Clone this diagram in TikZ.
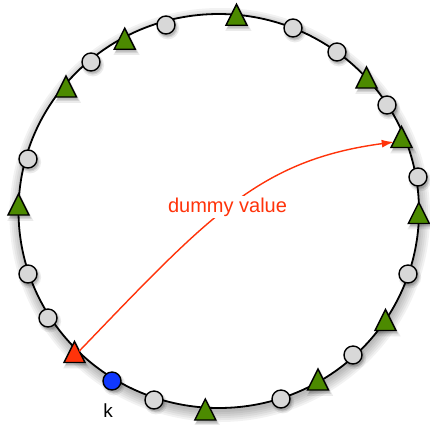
\documentclass[tikz,border=0pt]{standalone}
\usepackage{fontspec}
\setmainfont{Liberation Sans}
\usetikzlibrary{shapes.geometric,arrows.meta,shadows}
\definecolor{ggreen}{RGB}{76,138,0}
\definecolor{grayfill}{RGB}{216,216,216}
\definecolor{rred}{RGB}{255,51,10}
\definecolor{bblue}{RGB}{16,56,255}
\tikzset{
  soft shadow/.style={
    general shadow={fill=black, opacity=0.08, shadow xshift=1.5pt, shadow yshift=-2.5pt, shadow scale=1.25},
    general shadow={fill=black, opacity=0.10, shadow xshift=1.5pt, shadow yshift=-2.5pt, shadow scale=1.1},
    general shadow={fill=black, opacity=0.12, shadow xshift=1.5pt, shadow yshift=-2.5pt}
  },
  dot/.style={circle, draw=black, line width=1.4pt, minimum size=18pt, inner sep=0pt, outer sep=0pt, fill=grayfill, soft shadow},
  tri/.style={isosceles triangle, isosceles triangle stretches, isosceles triangle apex angle=53,
    shape border rotate=90, minimum width=21pt, minimum height=21pt, inner sep=0pt, outer sep=0pt,
    draw=black, line width=1.4pt, fill=ggreen, line join=miter, anchor=lower side, soft shadow},
  ring/.style={draw=black, fill=white, line width=1.8pt},
  ringshadow/.style={fill=black, opacity=0.05},
  conn/.style={draw=rred, line width=1.4pt, -{Latex[length=12pt,width=8pt]}},
  lbl/.style={fill=white, inner sep=1.5pt, text=rred, font=\fontsize{20}{24}\selectfont, anchor=base},
  klbl/.style={inner sep=0pt, text=black, font=\fontsize{19}{23}\selectfont, anchor=base}
}
\begin{document}
\begin{tikzpicture}[x=1pt,y=-1pt]
\useasboundingbox (0,0) rectangle (430,424);
% ring with soft shadow
\foreach \k in {0,2,4,6,8,10} {
  \fill[ringshadow] (219.75,215) ellipse [x radius=200.25+\k, y radius=197+\k];
}
\path[ring] (218.75,211) ellipse [x radius=200.25, y radius=197];
% gray dots
\node[dot] (g1) at (166,25) {};
\node[dot] (g2) at (91,62) {};
\node[dot] (g3) at (28,159) {};
\node[dot] (g4) at (28,274) {};
\node[dot] (g5) at (48,318) {};
\node[dot] (g6) at (154,400) {};
\node[dot] (g7) at (281,399) {};
\node[dot] (g8) at (353,355) {};
\node[dot] (g9) at (408,274) {};
\node[dot] (g10) at (418,177) {};
\node[dot] (g11) at (387,105) {};
\node[dot] (g12) at (337,52) {};
\node[dot] (g13) at (293,28) {};
\node[dot, fill=bblue] (k) at (112,381) {};
% triangles
\node[tri] (t1) at (236.5,25.2) {};
\node[tri] (t2) at (124.7,49.2) {};
\node[tri] (t3) at (66,97) {};
\node[tri] (t4) at (18.5,215) {};
\node[tri] (t5) at (418.8,223.5) {};
\node[tri] (t6) at (401.5,147.5) {};
\node[tri] (t7) at (366.5,88) {};
\node[tri] (t8) at (385.5,330.5) {};
\node[tri] (t9) at (318,390) {};
\node[tri] (t10) at (205.3,420) {};
\node[tri, fill=rred] (red) at (74.5,362.5) {};
% connector
\draw[conn] (red) .. controls (210,215) and (260,160) .. (t6);
\node[lbl] (dv) at (227.5,212) {dummy value};
\node[klbl] (kl) at (108,417.5) {k};
\end{tikzpicture}
\end{document}
